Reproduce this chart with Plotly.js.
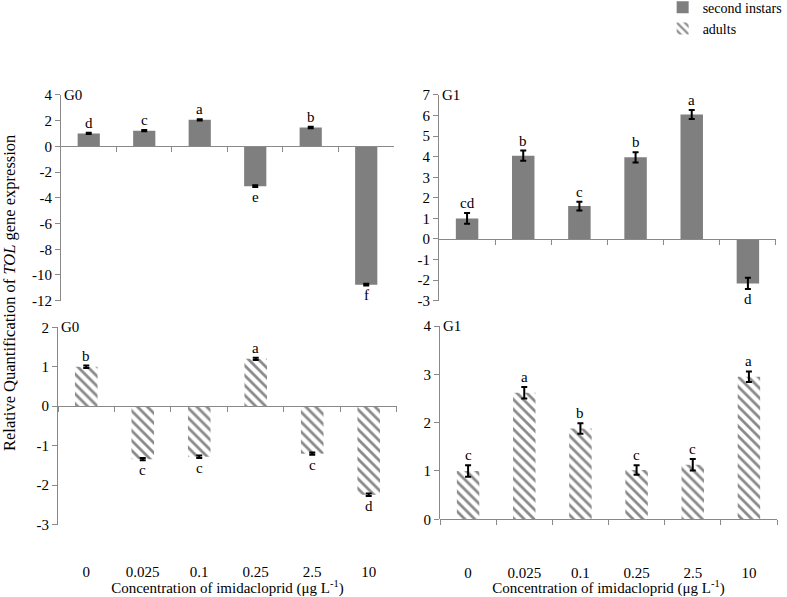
<!DOCTYPE html>
<html>
<head>
<meta charset="utf-8">
<script src="https://cdn.plot.ly/plotly-3.0.1.min.js"></script>
<style>
html,body{margin:0;padding:0;background:#fff;}
#chart{width:787px;height:597px;}
#chart svg text{font-family:'Liberation Serif','Times New Roman',serif !important;}
</style>
</head>
<body>
<div id="chart"></div>
<script>
// ---- data ----
const categories = ['0', '0.025', '0.1', '0.25', '2.5', '10'];

const g0Second = [1.01, 1.22, 2.07, -3.09, 1.47, -10.75];
const g0SecondErr = [0.05, 0.05, 0.05, 0.06, 0.05, 0.06];
const g0SecondLetters = ['d', 'c', 'a', 'e', 'b', 'f'];

const g1Second = [1.0, 4.05, 1.6, 3.97, 6.05, -2.16];
const g1SecondErr = [0.26, 0.25, 0.21, 0.25, 0.22, 0.27];
const g1SecondLetters = ['cd', 'b', 'c', 'b', 'a', 'd'];

const g0Adults = [1.0, -1.34, -1.28, 1.2, -1.2, -2.24];
const g0AdultsErr = [0.03, 0.03, 0.03, 0.03, 0.03, 0.03];
const g0AdultsLetters = ['b', 'c', 'c', 'a', 'c', 'd'];

const g1Adults = [1.0, 2.62, 1.88, 1.02, 1.13, 2.95];
const g1AdultsErr = [0.12, 0.12, 0.11, 0.1, 0.12, 0.11];
const g1AdultsLetters = ['c', 'a', 'b', 'c', 'c', 'a'];

const ticksTL = [-12, -10, -8, -6, -4, -2, 0, 2, 4];
const ticksTR = [-3, -2, -1, 0, 1, 2, 3, 4, 5, 6, 7];
const ticksBL = [-3, -2, -1, 0, 1, 2];
const ticksBR = [0, 1, 2, 3, 4];

const xTitle = 'Concentration of imidacloprid (μg L<sup>-1</sup>)';
const yTitle = 'Relative Quantification of <i>TOL</i> gene expression';
const panelLabels = ['G0', 'G1', 'G0', 'G1'];
const seriesNames = ['second instars', 'adults'];

// ---- styling ----
const FONT = 'Liberation Serif';
const AX = '#898989';
const GREY = '#7f7f7f';

const panels = [
  {x: 'x',  y: 'y',  xa: 'xaxis',  ya: 'yaxis',  vals: g0Second, err: g0SecondErr, let: g0SecondLetters, ticks: ticksTL, range: [-12, 4], domX: [0.0775, 0.5006], domY: [0.4963, 0.8409], adult: false, labels: false, legend: true},
  {x: 'x2', y: 'y2', xa: 'xaxis2', ya: 'yaxis2', vals: g1Second, err: g1SecondErr, let: g1SecondLetters, ticks: ticksTR, range: [-3, 7],  domX: [0.5578, 0.9860], domY: [0.4963, 0.8409], adult: false, labels: false, legend: false},
  {x: 'x3', y: 'y3', xa: 'xaxis3', ya: 'yaxis3', vals: g0Adults, err: g0AdultsErr, let: g0AdultsLetters, ticks: ticksBL, range: [-3, 2],  domX: [0.0737, 0.5044], domY: [0.1211, 0.4518], adult: true, labels: true, legend: true, standoff: 152},
  {x: 'x4', y: 'y4', xa: 'xaxis4', ya: 'yaxis4', vals: g1Adults, err: g1AdultsErr, let: g1AdultsLetters, ticks: ticksBR, range: [0, 4],   domX: [0.5591, 0.9873], domY: [0.1302, 0.4539], adult: true, labels: true, legend: false, standoff: 40}
];

const data = [];
const annotations = [];
const layout = {
  width: 787, height: 597,
  margin: {l: 0, r: 0, t: 0, b: 0, autoexpand: false},
  paper_bgcolor: '#fff', plot_bgcolor: '#fff',
  font: {family: FONT, size: 14, color: '#000'},
  bargap: 0.6,
  showlegend: true,
  legend: {x: 0.842, y: 1.014, xanchor: 'left', yanchor: 'top', bgcolor: 'rgba(0,0,0,0)',
           font: {family: FONT, size: 14, color: '#000'}, tracegroupgap: 0, itemwidth: 30},
  annotations: annotations
};

panels.forEach((p, i) => {
  const marker = p.adult
    ? {color: '#fff', line: {width: 0}, pattern: {shape: '\\', fgcolor: '#8a8a8a', bgcolor: '#fff', size: 7, solidity: 0.4}}
    : {color: GREY, line: {width: 0}};
  data.push({
    type: 'bar', x: categories, y: p.vals, xaxis: p.x, yaxis: p.y,
    name: p.adult ? seriesNames[1] : seriesNames[0],
    legendgroup: p.adult ? 'a' : 's',
    showlegend: p.legend,
    marker: marker,
    error_y: {type: 'data', array: p.err, visible: true, color: '#000', thickness: 2, width: 3},
    hoverinfo: 'x+y'
  });
  const zeroPos = p.domY[0] + (0 - p.range[0]) / (p.range[1] - p.range[0]) * (p.domY[1] - p.domY[0]);
  layout[p.xa] = {
    type: 'category', domain: p.domX, anchor: 'free', position: zeroPos,
    range: [-0.5, 5.5], showgrid: false, zeroline: false,
    showline: true, linecolor: AX, linewidth: 1,
    ticks: 'outside', tickson: 'boundaries', ticklen: 5, tickcolor: AX, tickwidth: 1,
    showticklabels: p.labels,
    tickfont: {family: FONT, size: 15, color: '#000'},
    fixedrange: true
  };
  if (p.labels) {
    layout[p.xa].ticklabelstandoff = p.standoff;
    layout[p.xa].title = {text: xTitle, font: {family: FONT, size: 15, color: '#000'}, standoff: 4};
  }
  layout[p.ya] = {
    domain: p.domY, anchor: p.x, range: p.range,
    tickvals: p.ticks, ticktext: p.ticks.map(String),
    showgrid: false, zeroline: false,
    showline: true, linecolor: AX, linewidth: 1,
    ticks: 'outside', ticklen: 5, tickcolor: AX, tickwidth: 1,
    tickfont: {family: FONT, size: 15, color: '#000'},
    fixedrange: true
  };
  // significance letters (x given as category index)
  p.vals.forEach((v, k) => {
    const pos = v >= 0;
    annotations.push({
      xref: p.x, yref: p.y, x: k, y: pos ? v + p.err[k] : v - p.err[k],
      text: p.let[k], showarrow: false,
      yanchor: pos ? 'bottom' : 'top',
      font: {family: FONT, size: 15, color: '#000'}
    });
  });
  // panel label
  annotations.push({
    xref: p.x + ' domain', yref: p.y + ' domain', x: 0, y: 1,
    xanchor: 'left', yanchor: 'middle', xshift: 1,
    text: panelLabels[i], showarrow: false,
    font: {family: FONT, size: 15, color: '#000'}
  });
});

annotations.push({
  xref: 'paper', yref: 'paper', x: 9 / 787, y: 1 - 293 / 597,
  xanchor: 'center', yanchor: 'middle', textangle: -90,
  text: yTitle, showarrow: false,
  font: {family: FONT, size: 16.5, color: '#000'}
});

Plotly.newPlot('chart', data, layout, {displayModeBar: false, staticPlot: true});
</script>
</body>
</html>
